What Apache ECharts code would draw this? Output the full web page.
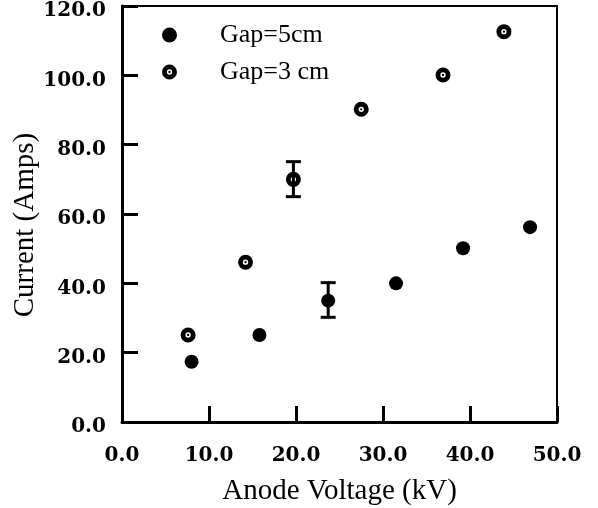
<!DOCTYPE html>
<html>
<head>
<meta charset="utf-8">
<script src="https://cdn.jsdelivr.net/npm/echarts@6/dist/echarts.min.js"></script>
<style>html,body{margin:0;padding:0;background:#fff;}#c{width:598px;height:508px;}</style>
</head>
<body>
<div id="c"></div>
<script>
// Data
const gap5X = [8.0, 15.8, 23.7, 31.5, 39.2, 46.9];
const gap5Y = [17.4, 25.1, 35.0, 40.0, 50.1, 56.2];
const gap3X = [7.6, 14.2, 19.7, 27.5, 36.9, 43.9];
const gap3Y = [25.1, 46.1, 70.0, 90.2, 100.1, 112.6];
// error bars: [x, low, high]
const gap5Err = [[23.7, 30.2, 40.2]];
const gap3Err = [[19.7, 65.0, 75.1]];
const seriesNames = ['Gap=5cm', 'Gap=3 cm'];
const xTicks = [0, 10, 20, 30, 40, 50];
const yTicks = [0, 20, 40, 60, 80, 100, 120];

const ringPath = 'path://M0,-6.5A6.5,6.5 0 1,1 0,6.5A6.5,6.5 0 1,1 0,-6.5Z' +
  'M0,-2.3A2.3,2.3 0 1,0 0,2.3A2.3,2.3 0 1,0 0,-2.3Z' +
  'M0,-1.0A1.0,1.0 0 1,1 0,1.0A1.0,1.0 0 1,1 0,-1.0Z';

function pairs(xs, ys) { return xs.map((x, i) => [x, ys[i]]); }

function errRender(params, api) {
  const x = api.value(0), lo = api.value(1), hi = api.value(2);
  const pLo = api.coord([x, lo]);
  const pHi = api.coord([x, hi]);
  const hw = 7.5;
  const st = { stroke: '#000', lineWidth: 3 };
  return {
    type: 'group',
    children: [
      { type: 'line', shape: { x1: pLo[0], y1: pLo[1], x2: pHi[0], y2: pHi[1] }, style: st },
      { type: 'line', shape: { x1: pLo[0] - hw, y1: pLo[1], x2: pLo[0] + hw, y2: pLo[1] }, style: st },
      { type: 'line', shape: { x1: pHi[0] - hw, y1: pHi[1], x2: pHi[0] + hw, y2: pHi[1] }, style: st }
    ]
  };
}

const tickFont = { fontFamily: 'DejaVu Serif', fontWeight: 'bold', fontSize: 20, color: '#000' };
const nameFont = { fontFamily: 'Liberation Serif', fontSize: 29, color: '#000' };

const chart = echarts.init(document.getElementById('c'));
chart.setOption({
  animation: false,
  backgroundColor: '#fff',
  grid: { left: 122, right: 41, top: 6, bottom: 86, show: true, borderColor: '#000', borderWidth: 2, backgroundColor: 'transparent', containLabel: false, outerBoundsMode: 'none' },
  legend: {
    data: seriesNames,
    orient: 'vertical',
    left: 157,
    top: 17,
    itemWidth: 15,
    itemHeight: 15,
    itemGap: 11,
    textStyle: { fontFamily: 'Liberation Serif', fontSize: 26, color: '#000', padding: [0, 0, 0, 38], lineHeight: 25 }
  },
  xAxis: {
    type: 'value', min: xTicks[0], max: xTicks[xTicks.length - 1], interval: 10,
    name: 'Anode Voltage (kV)', nameLocation: 'middle', nameGap: 55, nameMoveOverlap: false, nameTextStyle: nameFont,
    axisLine: { show: true, lineStyle: { color: '#000', width: 3 } },
    axisTick: { show: true, inside: true, length: 16, lineStyle: { color: '#000', width: 3 } },
    axisLabel: Object.assign({ margin: 24, formatter: v => v.toFixed(1) }, tickFont),
    splitLine: { show: false }
  },
  yAxis: {
    type: 'value', min: yTicks[0], max: yTicks[yTicks.length - 1], interval: 20,
    name: 'Current (Amps)', nameLocation: 'middle', nameGap: 82, nameMoveOverlap: false, nameTextStyle: Object.assign({ padding: [0, 22, 0, 0] }, nameFont),
    axisLine: { show: true, lineStyle: { color: '#000', width: 3 } },
    axisTick: { show: true, inside: true, length: 16, lineStyle: { color: '#000', width: 3 } },
    axisLabel: Object.assign({
      margin: 16,
      formatter: v => '{a|' + v.toFixed(1) + '}',
      rich: { a: Object.assign({ padding: [10, 0, 0, 0] }, tickFont) }
    }, tickFont),
    splitLine: { show: false }
  },
  series: [
    { type: 'custom', name: 'err5', renderItem: errRender, data: gap5Err, z: 1, encode: { x: 0, y: [1, 2] } },
    { type: 'custom', name: 'err3', renderItem: errRender, data: gap3Err, z: 1, encode: { x: 0, y: [1, 2] } },
    { type: 'scatter', name: seriesNames[0], data: pairs(gap5X, gap5Y), symbol: 'circle', symbolSize: 14, itemStyle: { color: '#000', opacity: 1 }, z: 3 },
    { type: 'scatter', name: seriesNames[1], data: pairs(gap3X, gap3Y), symbol: ringPath, symbolSize: 15, itemStyle: { color: '#000', opacity: 1 }, z: 3 }
  ]
});
</script>
</body>
</html>
